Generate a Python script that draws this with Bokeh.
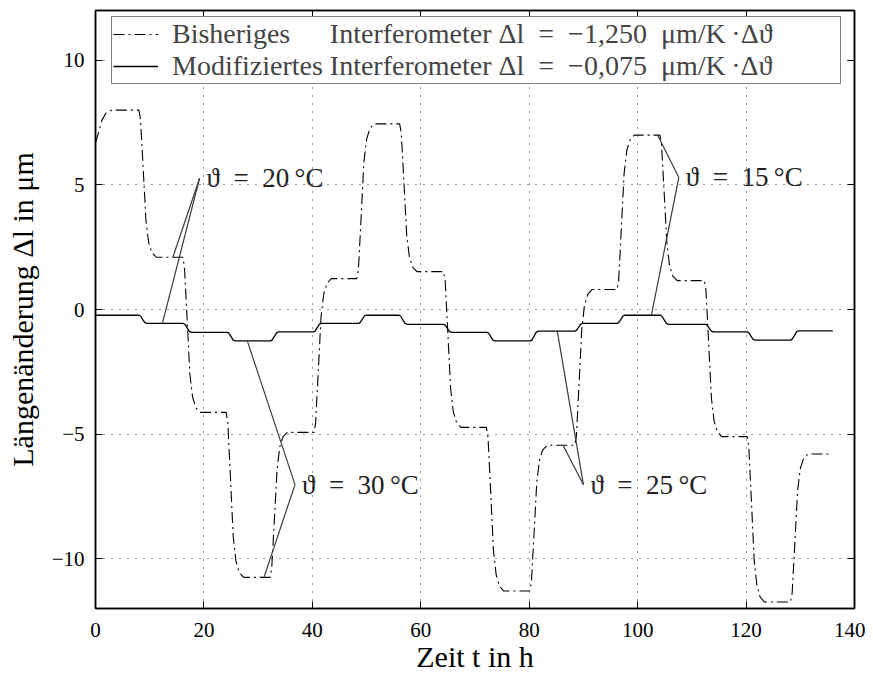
from bokeh.plotting import figure
from bokeh.models import LinearAxis, FixedTicker, Legend, LegendItem, Range1d
from bokeh.core.properties import value
from bokeh.embed import file_html
from bokeh.resources import INLINE

FONT = "Liberation Serif"

x_ticks = [0, 20, 40, 60, 80, 100, 120, 140]
y_ticks = [-10, -5, 0, 5, 10]
y_tick_labels = {-10: "−10", -5: "−5", 0: "0", 5: "5", 10: "10"}

# Bisheriges Interferometer (dash-dot)
old_t = [0, 0.5, 1.2, 1.9, 3.0,
         8.0, 8.3, 8.8, 9.3, 9.8, 10.4, 11.2,
         16.1, 16.4, 16.9, 17.4, 17.9, 18.5, 19.3,
         24.1, 24.4, 24.9, 25.4, 25.9, 26.5, 27.3,
         32.2, 32.5, 33.0, 33.5, 34.0, 34.6, 35.4,
         40.3, 40.6, 41.1, 41.6, 42.1, 42.7, 43.5,
         48.2, 48.5, 49.0, 49.5, 50.0, 50.6, 51.4,
         56.1, 56.4, 56.9, 57.4, 57.9, 58.5, 59.3,
         64.2, 64.5, 65.0, 65.5, 66.0, 66.6, 67.4,
         72.1, 72.4, 72.9, 73.4, 73.9, 74.5, 75.3,
         80.1, 80.4, 80.9, 81.4, 81.9, 82.5, 83.3,
         88.4, 88.7, 89.2, 89.7, 90.2, 90.8, 91.6,
         96.2, 96.5, 97.0, 97.5, 98.0, 98.6, 99.4,
         104.1, 104.4, 104.9, 105.4, 105.9, 106.5, 107.3,
         112.3, 112.6, 113.1, 113.6, 114.1, 114.7, 115.5,
         120.2, 120.5, 121.0, 121.5, 122.0, 122.6, 123.4,
         128.2, 128.5, 129.0, 129.5, 130.0, 130.6, 131.4,
         135.7]
old_dl = [6.7, 7.05, 7.6, 7.88, 8.0,
          8.0, 7.65, 5.64, 3.58, 2.69, 2.28, 2.1,
          2.1, 1.73, -0.39, -2.57, -3.51, -3.94, -4.13,
          -4.13, -4.53, -6.78, -9.10, -10.09, -10.55, -10.75,
          -10.75, -10.40, -8.42, -6.38, -5.51, -5.10, -4.93,
          -4.93, -4.56, -2.46, -0.30, 0.62, 1.05, 1.24,
          1.24, 1.61, 3.72, 5.90, 6.83, 7.26, 7.45,
          7.45, 7.09, 5.08, 3.00, 2.11, 1.70, 1.52,
          1.52, 1.15, -0.98, -3.17, -4.11, -4.54, -4.73,
          -4.73, -5.12, -7.36, -9.66, -10.64, -11.10, -11.30,
          -11.30, -10.95, -8.96, -6.91, -6.03, -5.63, -5.45,
          -5.45, -5.08, -2.95, -0.76, 0.18, 0.61, 0.80,
          0.80, 1.17, 3.28, 5.45, 6.38, 6.81, 7.00,
          7.00, 6.65, 4.66, 2.62, 1.74, 1.34, 1.16,
          1.16, 0.78, -1.34, -3.54, -4.47, -4.91, -5.10,
          -5.10, -5.50, -7.76, -10.08, -11.08, -11.54, -11.74,
          -11.74, -11.38, -9.36, -7.28, -6.39, -5.98, -5.80,
          -5.80]

# Modifiziertes Interferometer (solid)
new_t = [0.0,
         8.0, 8.3, 8.7, 9.1, 9.5,
         16.2, 16.5, 16.9, 17.3, 17.7,
         24.3, 24.6, 25.0, 25.4, 25.8,
         32.3, 32.6, 33.0, 33.4, 33.8,
         40.2, 40.5, 40.9, 41.3, 41.7,
         48.5, 48.8, 49.2, 49.6, 50.0,
         56.0, 56.3, 56.7, 57.1, 57.5,
         64.2, 64.5, 64.9, 65.3, 65.7,
         72.2, 72.5, 72.9, 73.3, 73.7,
         80.2, 80.5, 80.9, 81.3, 81.7,
         88.4, 88.7, 89.1, 89.5, 89.9,
         96.2, 96.5, 96.9, 97.3, 97.7,
         104.2, 104.5, 104.9, 105.3, 105.7,
         112.5, 112.8, 113.2, 113.6, 114.0,
         120.2, 120.5, 120.9, 121.3, 121.7,
         128.2, 128.5, 128.9, 129.3, 129.7,
         136.0]
new_dl = [-0.23,
          -0.23, -0.26, -0.40, -0.53, -0.56,
          -0.56, -0.60, -0.74, -0.88, -0.92,
          -0.92, -0.95, -1.09, -1.23, -1.26,
          -1.26, -1.22, -1.08, -0.94, -0.90,
          -0.90, -0.87, -0.73, -0.59, -0.56,
          -0.56, -0.53, -0.40, -0.26, -0.23,
          -0.23, -0.27, -0.42, -0.56, -0.60,
          -0.60, -0.63, -0.76, -0.89, -0.92,
          -0.92, -0.95, -1.09, -1.23, -1.26,
          -1.26, -1.22, -1.07, -0.91, -0.87,
          -0.87, -0.84, -0.72, -0.59, -0.56,
          -0.56, -0.53, -0.40, -0.26, -0.23,
          -0.23, -0.27, -0.42, -0.56, -0.60,
          -0.60, -0.63, -0.75, -0.87, -0.90,
          -0.90, -0.93, -1.07, -1.20, -1.23,
          -1.23, -1.19, -1.05, -0.90, -0.86,
          -0.86]

# annotations
ann_labels = ["ϑ\u2002=\u200220\u2009°C", "ϑ\u2002=\u200230\u2009°C",
              "ϑ\u2002=\u200225\u2009°C", "ϑ\u2002=\u200215\u2009°C"]
ann_x = [19.2, 36.8, 90.0, 107.6]
ann_y = [5.27, -7.03, -7.03, 5.30]
lead_old_x = [14.26, 31.04, 86.27, 103.7]
lead_old_y = [2.09, -10.77, -5.46, 6.99]
lead_new_x = [12.3, 27.98, 85.16, 102.55]
lead_new_y = [-0.59, -1.25, -0.85, -0.22]

label_old = ("Bisheriges\u2003\u2006 Interferometer \u0394l\u2002=\u2002\u22121,250\u2002"
             "\u03bcm/K\u2009\u00b7\u0394\u03d1\u2003\u2003\u2006\u2009")
label_new = ("Modifiziertes Interferometer \u0394l\u2002=\u2002\u22120,075\u2002"
             "\u03bcm/K\u2009\u00b7\u0394\u03d1\u2003\u2003\u2006\u2009")

p = figure(frame_width=759, frame_height=598,
           min_border_left=95, min_border_right=11, min_border_top=10, min_border_bottom=57,
           x_range=Range1d(0, 140), y_range=Range1d(-12, 12),
           output_backend="svg", toolbar_location=None)
p.background_fill_color = "white"
p.border_fill_color = "white"
p.outline_line_color = "black"
p.outline_line_width = 1.5

r_old = p.line(old_t, old_dl, line_color="black", line_width=1.1, line_dash="11 4 2 4")
r_new = p.line(new_t, new_dl, line_color="black", line_width=1.3)

p.segment(x0=ann_x, y0=ann_y, x1=lead_old_x, y1=lead_old_y, line_color="#3a3a3a", line_width=1.2)
p.segment(x0=ann_x, y0=ann_y, x1=lead_new_x, y1=lead_new_y, line_color="#3a3a3a", line_width=1.2)
p.text(x=ann_x, y=ann_y, text=ann_labels, x_offset=7, text_baseline="middle",
       text_font=value(FONT), text_font_size="27px", text_color="#222222")

for ax in (p.xaxis[0], p.yaxis[0]):
    ax.major_tick_in = 7
    ax.major_tick_out = 0
    ax.minor_tick_line_color = None
    ax.axis_line_width = 1.5
    ax.major_label_text_font = FONT
    ax.major_label_text_font_size = "21px"
    ax.major_label_text_color = "black"
    ax.axis_label_text_font = FONT
    ax.axis_label_text_font_size = "30px"
    ax.axis_label_text_font_style = "normal"
    ax.axis_label_text_color = "black"

p.xaxis.ticker = FixedTicker(ticks=x_ticks)
p.yaxis.ticker = FixedTicker(ticks=y_ticks)
p.yaxis.major_label_overrides = y_tick_labels
p.xaxis.axis_label = "Zeit t in h"
p.yaxis.axis_label = "Längenänderung Δl in μm"
p.xaxis.major_label_standoff = 14
p.yaxis.major_label_standoff = 11
p.xaxis.axis_label_standoff = 0
p.yaxis.axis_label_standoff = 10

for side, tk in (("above", x_ticks), ("right", y_ticks)):
    a = LinearAxis(ticker=FixedTicker(ticks=tk), major_tick_in=7, major_tick_out=0,
                   minor_tick_line_color=None, major_label_standoff=0, axis_line_width=1.5,
                   major_label_overrides={t: "" for t in tk})
    p.add_layout(a, side)

p.grid[0].ticker = FixedTicker(ticks=x_ticks)
p.grid[1].ticker = FixedTicker(ticks=y_ticks)
p.grid.grid_line_color = "black"
p.grid.grid_line_alpha = 0.8
p.grid.grid_line_dash = "1 7"
p.grid.grid_line_width = 1

legend = Legend(items=[LegendItem(label=label_old, renderers=[r_old]),
                       LegendItem(label=label_new, renderers=[r_new])],
                location=(16, 524), margin=0, padding=1, spacing=0,
                glyph_width=45, glyph_height=28, label_height=28, label_standoff=14,
                label_text_font=FONT, label_text_font_size="28px",
                label_text_line_height=0.9,
                border_line_color="black", border_line_width=1.5,
                background_fill_color="white", background_fill_alpha=1.0)
p.add_layout(legend)

open("out.html", "w").write(file_html(p, INLINE))
